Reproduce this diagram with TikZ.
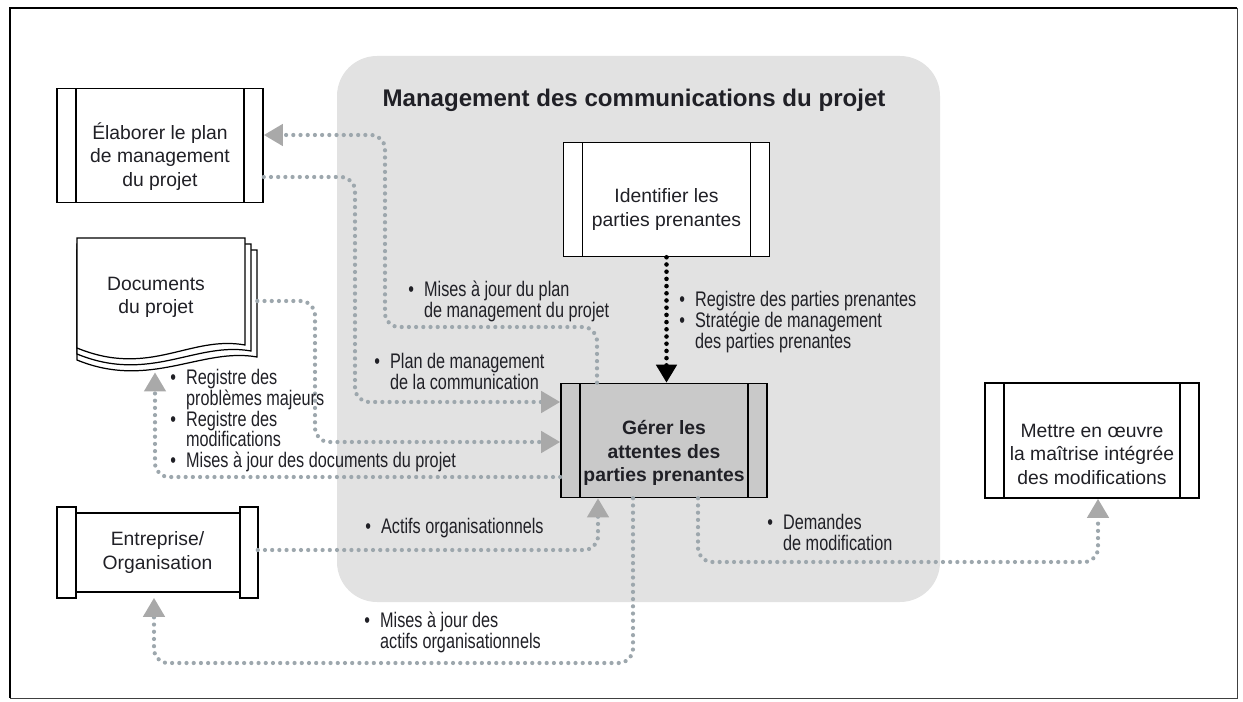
\documentclass[tikz,border=0pt]{standalone}
\usepackage{fontspec}
\setmainfont{Liberation Sans}
\newfontfamily\etroite[FakeStretch=0.77]{Liberation Sans}
\usetikzlibrary{arrows.meta, calc, positioning}
\definecolor{fluxgris}{HTML}{9DA7AD}
\definecolor{pointe}{HTML}{A9A9A9}
\definecolor{zone}{HTML}{E2E2E2}
\definecolor{coeur}{HTML}{C9C9C9}
\definecolor{encre}{HTML}{202026}
\newcommand{\puce}{\makebox[0.75em][l]{\textbullet}}
\newcommand{\retrait}{\hspace*{0.75em}}

\begin{document}
\begin{tikzpicture}[x=0.02cm, y=-0.02cm,
    processus/.style={draw, line width=0.9pt, fill=white, minimum width=4.12cm,
                      minimum height=2.28cm, inner sep=0pt,
                      path picture={\draw[line width=0.9pt]
                        ([xshift=0.38cm]path picture bounding box.north west) --
                        ([xshift=0.38cm]path picture bounding box.south west)
                        ([xshift=-0.38cm]path picture bounding box.north east) --
                        ([xshift=-0.38cm]path picture bounding box.south east);}},
    texte/.style={align=center, text=encre, inner sep=0pt,
                  font=\fontsize{11}{13.4}\selectfont},
    etiquette/.style={align=left, anchor=north west, inner sep=0pt, text=encre,
                      font=\etroite\fontsize{12}{11.8}\selectfont},
    flux/.style={draw=fluxgris, line width=2.4pt, dash pattern=on 0pt off 4.1pt,
                 line cap=round, rounded corners=8pt,
                 -{Triangle[length=0.38cm, width=0.42cm, color=pointe]}},
    fluxnoir/.style={draw=black, line width=2.6pt, dash pattern=on 0pt off 4.1pt,
                 line cap=round, -{Triangle[length=0.36cm, width=0.4cm, color=black]}}
  ]
  \useasboundingbox (0,0) rectangle (1243,702);
  % cadre
  \draw[line width=0.5pt, black!75] (1237,8) -- (1237,698) -- (10,698);
  \draw[line width=1.6pt] (1237,8) -- (10,8) -- (10,698);
  % zone du processus
  \fill[zone, rounded corners=0.8cm] (337,56) rectangle (940,602);
  \node[font=\bfseries\fontsize{13.7}{16}\selectfont, text=encre] (titre) at (634,100)
    {Management des communications du projet};

  % processus
  \node[processus] (elab) at (160,145.5) {};
  \node[texte] (elabtxt) at ([shift={(0,11)}]elab.center) {Élaborer le plan\\de management\\du projet};
  \node[processus] (ident) at (666.5,199.5) {};
  \node[texte] (identtxt) at ([shift={(0,10)}]ident.center) {Identifier les\\parties prenantes};
  \node[processus, fill=coeur] (ger) at (664,440.5) {};
  \node[texte, font=\bfseries\fontsize{11}{13.6}\selectfont] (gertxt) at ([shift={(0,12.5)}]ger.center)
    {Gérer les\\attentes des\\parties prenantes};
  \node[processus, minimum width=4.28cm, minimum height=2.3cm] (mett) at (1092,440.5) {};
  \node[texte] (metttxt) at ([shift={(0,13.5)}]mett.center)
    {Mettre en œuvre\\la maîtrise intégrée\\des modifications};

  % entreprise
  \node[texte, draw=black, line width=0.9pt, minimum width=3.98cm, minimum height=1.58cm] (ent)
    at (157.5,552.5) {Entreprise/\\Organisation};
  \draw[line width=0.9pt, fill=white] ([shift={(0,-5)}]ent.north west) rectangle ([shift={(19,5)}]ent.south west);
  \draw[line width=0.9pt, fill=white] ([shift={(-18,-5)}]ent.north east) rectangle ([shift={(0,5)}]ent.south east);

  % documents
  \foreach \k in {2,1} {
    \draw[line width=0.7pt, fill=white] (77,238+6*\k) -- (245+6*\k,238+6*\k) -- (245+6*\k,345+6*\k)
      .. controls (190+6*\k,335+6*\k) and (150,378+6*\k) .. (77,348+6*\k) -- cycle;
  }
  \draw[line width=0.7pt, fill=white] (77,238) -- (245,238) -- (245,345)
    .. controls (190,335) and (150,378) .. (77,348) -- cycle;
  \node[minimum width=3.6cm, minimum height=2.68cm, inner sep=0pt] (doc) at (167,305) {};
  \node[texte] (doctxt) at (156,297.5) {Documents\\du projet};

  % flux
  \draw[flux] ([shift={(-67,0)}]ger.north) |- (385,327) -- (385,135) -- ([shift={(0,-10.5)}]elab.east);
  \draw[flux] ([shift={(0,31.5)}]elab.east) -| (355,402) -- ([shift={(0,-38.5)}]ger.west);
  \draw[flux] ([shift={(0,-4)}]doc.east) -| (315,442) -- ([shift={(0,1.5)}]ger.west);
  \draw[flux] ([shift={(0,36.5)}]ger.west) -| ([shift={(-12,0)}]doc.south);
  \draw[flux] ([shift={(0,-2.5)}]ent.east) -| ([shift={(-66,0)}]ger.south);
  \draw[flux] ([shift={(-31,0)}]ger.south) |- (154,663) -- ([shift={(-3.5,5)}]ent.south);
  \draw[flux] ([shift={(34,0)}]ger.south) |- (1098,562) -- ([shift={(6,0)}]mett.south);
  \draw[fluxnoir] (ident.south) -- (ident.south |- ger.north);

  % etiquettes
  \node[etiquette] (lbplan) at (408,281) {\puce Mises à jour du plan\\\retrait de management du projet};
  \node[etiquette] (lbcomm) at (374,353) {\puce Plan de management\\\retrait de la communication};
  \node[etiquette] (lbdocs) at (170,369) {\puce Registre des\\\retrait problèmes majeurs\\\puce Registre des\\\retrait modifications\\\puce Mises à jour des documents du projet};
  \node[etiquette] (lbactifs) at (365,518) {\puce Actifs organisationnels};
  \node[etiquette] (lbmaj) at (364,612) {\puce Mises à jour des\\\retrait actifs organisationnels};
  \node[etiquette] (lbdemandes) at (767,514) {\puce Demandes\\\retrait de modification};
  \node[etiquette] (lbregistre) at (679,291) {\puce Registre des parties prenantes\\\puce Stratégie de management\\\retrait des parties prenantes};
\end{tikzpicture}
\end{document}
